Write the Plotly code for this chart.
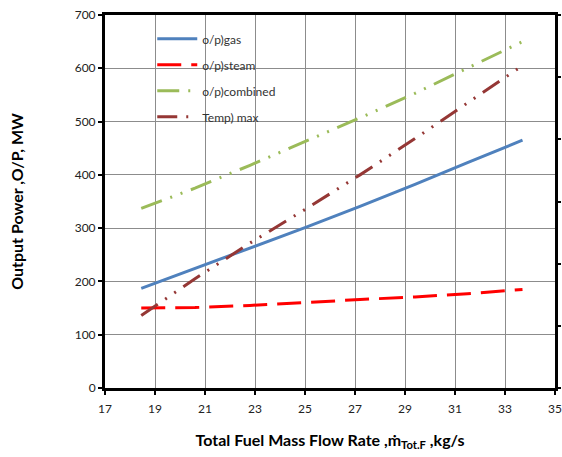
import plotly.graph_objects as go

flow = [18.45, 20.6, 22.8, 25.0, 27.2, 29.4, 31.5, 33.7]
op_gas = [187, 224, 263, 301, 341, 382, 423, 465]
op_steam = [150, 151, 155, 161, 166, 171, 177, 185]
op_combined = [337, 375, 418, 462, 507, 553, 600, 650]
temp_max = [136, 205, 272, 335, 400, 468, 535, 605]

names = ["o/p)gas", "o/p)steam", "o/p)combined", "Temp) max"]
colors = ["#4F81BD", "#FF0000", "#9BBB59", "#953735"]
dashes = ["solid", "24px,10px", "22px,9px,2px,9px,2px,9px", "20px,9px,2px,9px,2px,9px"]
series = [op_gas, op_steam, op_combined, temp_max]

fig = go.Figure()
for i, (n, c, d, s) in enumerate(zip(names, colors, dashes, series)):
    fig.add_trace(go.Scatter(x=flow, y=s, name=n, mode="lines",
                             line=dict(color=c, width=3, dash=d),
                             legendgroup=f"g{i}"))
fig.add_trace(go.Scatter(x=[None], y=[None], yaxis="y2", showlegend=False,
                         hoverinfo="skip"))

fig.update_layout(
    width=562, height=457,
    margin=dict(l=105, r=7, t=15, b=69),
    paper_bgcolor="white", plot_bgcolor="white",
    font=dict(family="Lato", size=12, color="#222"),
    showlegend=True,
    legend=dict(x=0.105, y=0.975, xanchor="left", yanchor="top",
                bgcolor="rgba(0,0,0,0)", borderwidth=0,
                font=dict(family="Lato", size=12, color="#333"),
                itemwidth=40,
                traceorder="grouped", tracegroupgap=7),
    xaxis=dict(range=[17, 35], dtick=2, tick0=17, automargin=False,
               showgrid=True, gridcolor="#8C8C8C", gridwidth=1,
               showline=True, linecolor="black", linewidth=3, mirror=True,
               ticks="outside", ticklen=4, tickwidth=2, tickcolor="black",
               zeroline=False, ticklabelstandoff=4,
               tickfont=dict(family="Lato", size=12, color="#222"),
               title=dict(text="Total Fuel Mass Flow Rate ,ṁ<sub>Tot.F</sub> ,kg/s",
                          font=dict(family="Lato", size=16, color="black", weight="bold"),
                          standoff=20)),
    yaxis=dict(range=[0, 700], dtick=100, automargin=False,
               showgrid=True, gridcolor="#8C8C8C", gridwidth=1,
               showline=True, linecolor="black", linewidth=3, mirror=True,
               ticks="outside", ticklen=4, tickwidth=2, tickcolor="black",
               zeroline=False,
               tickfont=dict(family="Lato", size=12, color="#222"),
               title=dict(text="Output Power ,O/P, MW",
                          font=dict(family="Lato", size=16, color="black", weight="bold"),
                          standoff=48)),
    yaxis2=dict(overlaying="y", side="right", range=[0, 6], dtick=1,
                automargin=False,
                showgrid=False, zeroline=False, showticklabels=False,
                showline=False, ticks="outside", ticklen=5, tickwidth=2,
                tickcolor="black"),
)

fig.write_html("out.html")
